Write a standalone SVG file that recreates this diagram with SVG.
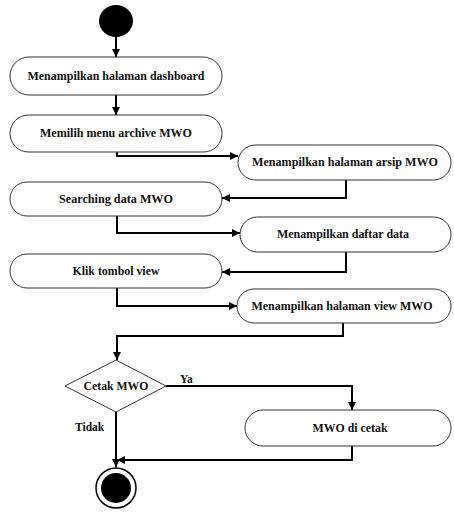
<svg xmlns="http://www.w3.org/2000/svg" width="454" height="512" viewBox="0 0 454 512">
<style>
.n{fill:#fff;stroke:#333;stroke-width:1}
.t{font-family:"Liberation Serif","Times New Roman",serif;font-weight:bold;font-size:11.5px;fill:#111;text-anchor:middle}
.l{font-family:"Liberation Serif","Times New Roman",serif;font-weight:bold;font-size:11.5px;fill:#111}
.c{fill:none;stroke:#000;stroke-width:2}
</style>
<defs>
<marker id="a" viewBox="0 0 10 10" refX="10" refY="5" markerWidth="10" markerHeight="8" markerUnits="userSpaceOnUse" orient="auto">
<path d="M0,0L10,5L0,10z" fill="#000"/>
</marker>
</defs>
<rect width="454" height="512" fill="#fff"/>
<g id="connectors">
<path class="c" d="M116,37V57" marker-end="url(#a)"/>
<path class="c" d="M116,95V115" marker-end="url(#a)"/>
<path class="c" d="M117,152V156H238" marker-end="url(#a)"/>
<path class="c" d="M346,180V198H222" marker-end="url(#a)"/>
<path class="c" d="M117,216V233H240" marker-end="url(#a)"/>
<path class="c" d="M346,252V272H222" marker-end="url(#a)"/>
<path class="c" d="M117,288V306H237" marker-end="url(#a)"/>
<path class="c" d="M343,323V336H117V360" marker-end="url(#a)"/>
<path class="c" d="M166,386H352V410" marker-end="url(#a)"/>
<path class="c" d="M352,446V460H117" marker-end="url(#a)"/>
<path class="c" d="M116,412V467" marker-end="url(#a)"/>
</g>
<g id="start"><ellipse cx="116" cy="21" rx="17" ry="16" fill="#000"/></g>
<g id="n1"><rect class="n" x="10" y="57" width="212" height="38" rx="19"/><text class="t" x="116" y="80" textLength="177" lengthAdjust="spacingAndGlyphs">Menampilkan halaman dashboard</text></g>
<g id="n2"><rect class="n" x="10" y="115" width="212" height="37" rx="18.5"/><text class="t" x="116" y="137" textLength="152" lengthAdjust="spacingAndGlyphs">Memilih menu archive MWO</text></g>
<g id="n3"><rect class="n" x="238" y="145" width="213" height="35" rx="17.5"/><text class="t" x="345" y="166" textLength="186" lengthAdjust="spacingAndGlyphs">Menampilkan halaman arsip MWO</text></g>
<g id="n4"><rect class="n" x="10" y="182" width="212" height="34" rx="17"/><text class="t" x="116" y="203" textLength="114" lengthAdjust="spacingAndGlyphs">Searching data MWO</text></g>
<g id="n5"><rect class="n" x="240" y="217" width="211" height="35" rx="17.5"/><text class="t" x="343" y="238" textLength="132" lengthAdjust="spacingAndGlyphs">Menampilkan daftar data</text></g>
<g id="n6"><rect class="n" x="10" y="254" width="212" height="34" rx="17"/><text class="t" x="116" y="275" textLength="87" lengthAdjust="spacingAndGlyphs">Klik tombol view</text></g>
<g id="n7"><rect class="n" x="237" y="289" width="214" height="34" rx="17"/><text class="t" x="342" y="310" textLength="181" lengthAdjust="spacingAndGlyphs">Menampilkan halaman view MWO</text></g>
<g id="decision"><path class="n" d="M116,360L166,386L116,412L65,386Z"/><text class="t" x="116" y="390" textLength="65" lengthAdjust="spacingAndGlyphs">Cetak MWO</text></g>
<text class="l" x="180" y="383">Ya</text>
<text class="l" x="75" y="431">Tidak</text>
<g id="n8"><rect class="n" x="245" y="410" width="206" height="36" rx="18"/><text class="t" x="350" y="432" textLength="75" lengthAdjust="spacingAndGlyphs">MWO di cetak</text></g>
<g id="end"><circle cx="116" cy="488" r="20" fill="#fff" stroke="#000" stroke-width="1.5"/><circle cx="116" cy="488" r="15" fill="#000"/></g>
</svg>
